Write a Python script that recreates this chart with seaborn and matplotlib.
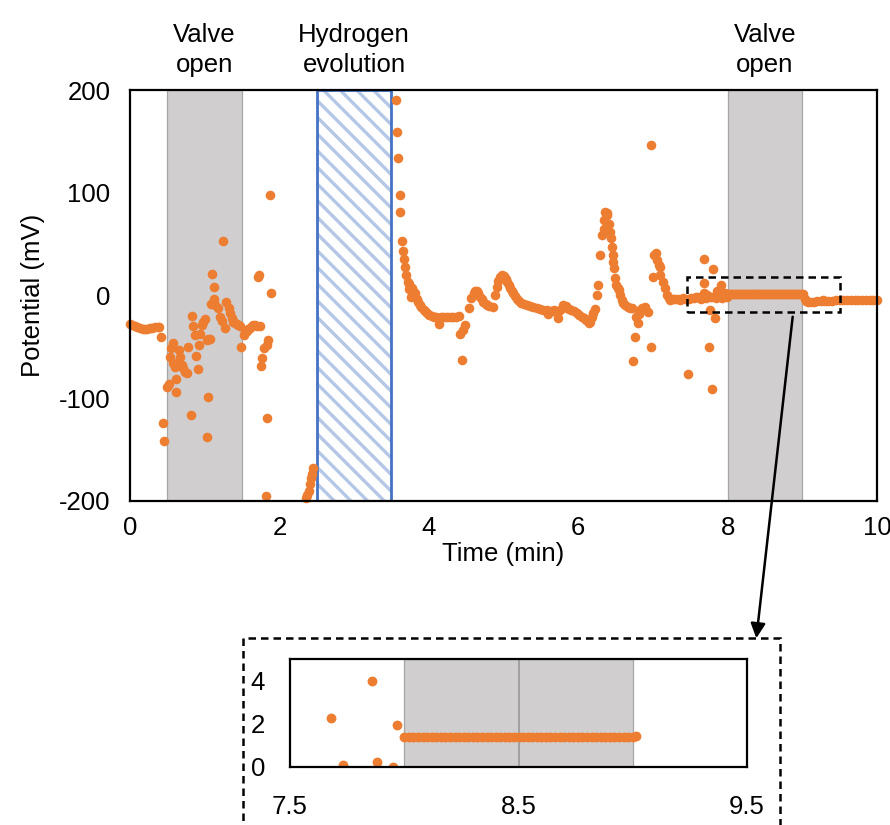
import matplotlib
matplotlib.use("Agg")
import matplotlib.pyplot as plt
import matplotlib.transforms as mtransforms
from matplotlib.patches import Rectangle, FancyArrowPatch
import pandas as pd
import seaborn as sns

# ---- readings: (time in min, potential in mV) ----
baseline_start = [
    (0.00, -28), (0.03, -29), (0.07, -30), (0.10, -31), (0.13, -32), (0.17, -32.5),
    (0.20, -33), (0.23, -32.5), (0.27, -32), (0.30, -31.5), (0.34, -31), (0.37, -31),
    (0.39, -31), (0.41, -40), (0.44, -124), (0.45, -142),
]
first_valve = [
    (0.50, -89), (0.52, -86), (0.54, -60), (0.55, -51), (0.57, -46), (0.58, -66),
    (0.60, -70), (0.62, -81), (0.62, -94), (0.63, -68), (0.65, -53), (0.67, -60),
    (0.69, -68), (0.71, -71), (0.74, -74), (0.76, -75), (0.77, -50), (0.81, -116),
    (0.83, -20), (0.85, -30), (0.87, -38), (0.89, -59), (0.91, -72), (0.93, -48),
    (0.94, -37), (0.96, -29), (0.98, -25.5), (1.00, -23), (1.03, -43), (1.03, -138),
    (1.05, -42), (1.05, -99), (1.07, -42), (1.08, -8), (1.10, 20.6), (1.12, -3),
    (1.12, 8), (1.14, -9), (1.18, -12.5), (1.20, -20.6), (1.23, -24.5), (1.25, 53),
    (1.27, -32), (1.29, -6), (1.32, -12.5), (1.34, -17), (1.36, -22), (1.38, -25.5),
    (1.41, -27), (1.43, -28), (1.45, -29), (1.47, -29.5), (1.49, -50),
]
after_first_valve = [
    (1.52, -38), (1.54, -36), (1.56, -35), (1.58, -33), (1.61, -32), (1.63, -30),
    (1.65, -29), (1.68, -29), (1.70, -30), (1.72, 18), (1.73, 19.5), (1.74, -30),
    (1.75, -69), (1.77, -61), (1.80, -51), (1.82, -195), (1.83, -48), (1.84, -119.5),
    (1.85, -43), (1.87, 98), (1.89, 2),
]
before_hydrogen = [
    (2.35, -197), (2.37, -194), (2.39, -190), (2.41, -183), (2.42, -178),
    (2.43, -174), (2.45, -168),
]
relaxation = [
    (3.56, 190), (3.57, 159), (3.59, 134), (3.61, 98), (3.62, 81.6), (3.64, 53),
    (3.65, 43), (3.67, 35.5), (3.68, 28), (3.70, 20), (3.72, 13), (3.73, 11),
    (3.74, 6), (3.75, 8), (3.76, -1), (3.77, 7), (3.79, 4), (3.82, 2), (3.84, -3),
    (3.86, -6), (3.88, -9), (3.90, -11), (3.93, -14), (3.95, -15.5), (3.97, -17),
    (4.00, -18.5), (4.04, -20), (4.07, -20.5), (4.10, -20.6), (4.13, -28),
    (4.16, -21), (4.19, -21), (4.23, -21), (4.26, -21), (4.30, -21), (4.33, -21),
    (4.37, -20.5), (4.40, -19.6), (4.42, -37), (4.44, -63), (4.46, -33.6),
    (4.48, -28.7), (4.54, -12.5), (4.57, -2.7), (4.60, 2), (4.62, 4), (4.64, 4.4),
    (4.66, 2), (4.69, -1), (4.71, -3.5), (4.73, -6), (4.76, -8), (4.78, -9),
    (4.81, -10), (4.86, -11),
]
middle_drift = [
    (4.89, 0.5), (4.91, 8.6), (4.93, 14), (4.95, 18), (4.98, 19.5), (5.00, 19),
    (5.03, 16), (5.05, 13.4), (5.07, 10), (5.09, 7), (5.11, 4.5), (5.13, 2),
    (5.16, -0.5), (5.18, -3), (5.21, -5.5), (5.24, -7.6), (5.27, -8.5), (5.31, -9),
    (5.35, -10), (5.40, -11.5), (5.45, -12.5), (5.49, -13.5), (5.53, -14),
    (5.58, -14), (5.60, -18), (5.63, -15), (5.67, -14), (5.70, -16), (5.73, -22),
    (5.76, -14), (5.80, -9), (5.83, -10), (5.85, -12), (5.88, -13), (5.91, -14),
    (5.95, -15.5), (5.98, -17), (6.01, -18.5), (6.05, -20.6), (6.08, -22),
    (6.11, -24), (6.14, -27), (6.16, -25.5), (6.18, -20.6), (6.20, -17), (6.22, -13),
]
second_spike = [
    (6.25, 0.5), (6.26, 10), (6.29, 39), (6.32, 59), (6.34, 65), (6.35, 73.5),
    (6.36, 81.6), (6.38, 78), (6.39, 80), (6.41, 70), (6.43, 62), (6.44, 55.7),
    (6.45, 47.5), (6.46, 39), (6.47, 33), (6.48, 27), (6.49, 16.7), (6.51, 10),
    (6.53, 7), (6.54, 5), (6.56, 0.5), (6.58, -4.4), (6.60, -7), (6.63, -9),
    (6.67, -11), (6.70, -12), (6.72, -12.5), (6.74, -64), (6.76, -40), (6.78, -20.6),
    (6.80, -27), (6.81, -18), (6.83, -14), (6.86, -12), (6.89, -11), (6.94, -16),
    (6.97, -50), (6.98, 146.5), (7.00, 18), (7.02, 39), (7.04, 41), (7.06, 34.5),
    (7.08, 30), (7.09, 28), (7.10, 20), (7.13, 13.4), (7.16, 7), (7.19, 0.5),
    (7.21, -2), (7.23, -4.4),
]
before_second_valve = [
    (7.27, -3.5), (7.30, -3), (7.33, -3.5), (7.36, -3.9), (7.40, -2.5), (7.43, -3),
    (7.47, -76), (7.48, -3), (7.51, -2.5), (7.55, -2), (7.58, -1.5), (7.60, -1),
    (7.63, -2.5), (7.65, -3), (7.68, 2.26), (7.68, 12), (7.69, 35.5), (7.71, -2),
    (7.73, 0.11), (7.75, -50), (7.76, -14), (7.78, -1), (7.79, -91), (7.80, 25.5),
    (7.83, -22), (7.84, -2.5), (7.86, 4.0), (7.88, 0.22), (7.90, -1.5), (7.91, 10),
    (7.93, -2), (7.95, 0.0), (7.97, 1.95), (7.99, -1),
]
second_valve = [
    (8.00, 1.37), (8.02, 1.37), (8.04, 1.37), (8.06, 1.37), (8.08, 1.37),
    (8.10, 1.37), (8.12, 1.37), (8.14, 1.37), (8.16, 1.37), (8.18, 1.37),
    (8.20, 1.37), (8.22, 1.37), (8.24, 1.37), (8.26, 1.37), (8.28, 1.37),
    (8.30, 1.37), (8.32, 1.37), (8.34, 1.37), (8.36, 1.37), (8.38, 1.37),
    (8.40, 1.37), (8.42, 1.37), (8.44, 1.37), (8.46, 1.37), (8.48, 1.37),
    (8.50, 1.37), (8.52, 1.37), (8.54, 1.37), (8.56, 1.37), (8.58, 1.37),
    (8.60, 1.37), (8.62, 1.37), (8.64, 1.37), (8.66, 1.37), (8.68, 1.37),
    (8.70, 1.37), (8.72, 1.37), (8.74, 1.37), (8.76, 1.37), (8.78, 1.37),
    (8.80, 1.37), (8.82, 1.37), (8.84, 1.37), (8.86, 1.37), (8.88, 1.37),
    (8.90, 1.37), (8.92, 1.37), (8.94, 1.37), (8.96, 1.37), (8.98, 1.37),
    (9.00, 1.37), (9.015, 1.45),
]
final_baseline = [
    (9.03, -3), (9.05, -5), (9.08, -6), (9.11, -6), (9.15, -6), (9.20, -5.5),
    (9.25, -5), (9.28, -4), (9.31, -5), (9.35, -5), (9.40, -5), (9.45, -4.5),
    (9.50, -4.5), (9.55, -4.5), (9.60, -4.5), (9.65, -4.4), (9.70, -4.4),
    (9.75, -4.4), (9.80, -4.4), (9.85, -4), (9.90, -4), (9.95, -4.4), (10.00, -4.4),
]

valve_windows = [(0.5, 1.5), (8.0, 9.0)]
hydrogen_window = (2.5, 3.5)
zoom_box = (7.45, 9.5, -16, 18)

main_xticks = [0, 2, 4, 6, 8, 10]
main_yticks = [-200, -100, 0, 100, 200]
inset_xticks = [7.5, 8.5, 9.5]
inset_yticks = [0, 2, 4]

readings = pd.DataFrame(
    baseline_start + first_valve + after_first_valve + before_hydrogen + relaxation
    + middle_drift + second_spike + before_second_valve + second_valve + final_baseline,
    columns=["time", "potential"],
)

# ---- style ----
sns.set_theme(style="white")
plt.rcParams["font.family"] = ["Liberation Sans", "DejaVu Sans"]
plt.rcParams["hatch.linewidth"] = 2.4
FS = 18.5
ORANGE = "#ED7D31"
BAND = "#D0CECE"
BAND_EDGE = "#A6A6A6"

fig = plt.figure(figsize=(8.9, 8.25), dpi=100)
ax = fig.add_axes([130 / 890, 1 - 501 / 825, 747 / 890, 411 / 825])

for lo, hi in valve_windows:
    ax.axvspan(lo, hi, facecolor=BAND, edgecolor=BAND_EDGE, linewidth=0.9, zorder=0.5)
ax.add_patch(Rectangle((hydrogen_window[0], -200), hydrogen_window[1] - hydrogen_window[0], 400,
                       facecolor="white", edgecolor="#B4C7E7", hatch="\\\\",
                       linewidth=0, zorder=0.6))
ax.add_patch(Rectangle((hydrogen_window[0], -200), hydrogen_window[1] - hydrogen_window[0], 400,
                       facecolor="none", edgecolor="#4472C4", linewidth=2.0, zorder=0.7))

sns.scatterplot(data=readings, x="time", y="potential", ax=ax, color=ORANGE, s=48,
                linewidth=0, legend=False, zorder=3, clip_on=False)

ax.add_patch(Rectangle((zoom_box[0], zoom_box[2]), zoom_box[1] - zoom_box[0], zoom_box[3] - zoom_box[2],
                       facecolor="none", edgecolor="black", linewidth=1.8,
                       linestyle=(0, (3, 2)), zorder=4))

ax.set_xlim(0, 10)
ax.set_ylim(-200, 200)
ax.set_xticks(main_xticks)
ax.set_yticks(main_yticks)
ax.set_xticklabels([str(v) for v in main_xticks])
ax.set_yticklabels([str(v) for v in main_yticks])
ax.tick_params(direction="in", length=7, width=1.5, labelsize=FS, colors="black")
ax.tick_params(axis="x", pad=11)
ax.tick_params(axis="y", pad=14)
for sp in ax.spines.values():
    sp.set_linewidth(1.6)
    sp.set_color("black")
    sp.set_zorder(5)
ax.set_xlabel("Time (min)", fontsize=FS, labelpad=1, color="black")
ax.set_ylabel("Potential (mV)", fontsize=FS, labelpad=10, color="black")

top = mtransforms.blended_transform_factory(ax.transData, ax.transAxes)
for xc, label in [(1.0, "Valve\nopen"), (3.0, "Hydrogen\nevolution"), (8.5, "Valve\nopen")]:
    ax.text(xc, 1.0 + 40 / 411, label, transform=top, ha="center", va="center",
            fontsize=FS, color="black", linespacing=1.35)

# ---- magnified view ----
ins = fig.add_axes([290 / 890, 1 - 767 / 825, 457 / 890, 108 / 825])
ins.axvspan(8.0, 9.0, facecolor=BAND, edgecolor=BAND_EDGE, linewidth=0.9, zorder=0.5)
ins.axvline(8.5, color="#A0A0A0", linewidth=1.4, zorder=0.6)
sns.scatterplot(data=readings, x="time", y="potential", ax=ins, color=ORANGE, s=50,
                linewidth=0, legend=False, zorder=3)
ins.set_xlim(7.5, 9.5)
ins.set_ylim(0, 5)
ins.set_xticks(inset_xticks)
ins.set_yticks(inset_yticks)
ins.set_xticklabels([str(v) for v in inset_xticks])
ins.set_yticklabels([str(v) for v in inset_yticks])
ins.tick_params(direction="in", length=7, width=1.5, labelsize=FS, colors="black")
ins.tick_params(axis="x", pad=20)
ins.tick_params(axis="y", pad=18)
ins.set_xlabel("")
ins.set_ylabel("")
for sp in ins.spines.values():
    sp.set_linewidth(1.6)
    sp.set_color("black")
    sp.set_zorder(5)

# dashed frame around the magnified view and the pointer to it
fig.add_artist(Rectangle((243 / 890, -0.05), (780 - 243) / 890, 1 - 638 / 825 + 0.05,
                         transform=fig.transFigure, facecolor="none", edgecolor="black",
                         linewidth=1.8, linestyle=(0, (3, 2)), zorder=6))
fig.add_artist(FancyArrowPatch((793 / 890, 1 - 314 / 825), (756 / 890, 1 - 641 / 825),
                               transform=fig.transFigure, arrowstyle="-|>",
                               mutation_scale=22, linewidth=1.8, color="black", zorder=7))

fig.savefig("out.png", dpi=100)
